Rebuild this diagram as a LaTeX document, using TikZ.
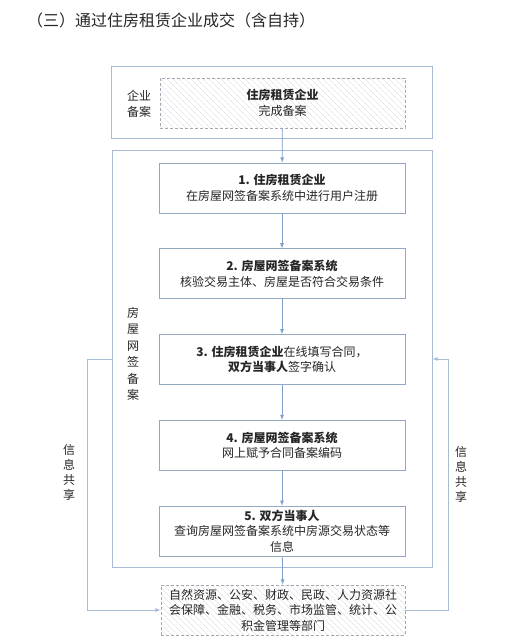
\documentclass[tikz,border=0pt]{standalone}
\usepackage{fontspec}
\setmainfont{Noto Sans CJK SC}
\usetikzlibrary{positioning}
\usetikzlibrary{patterns.meta}
\definecolor{framecol}{HTML}{A7BCD4}
\definecolor{boxcol}{HTML}{93A9C2}
\definecolor{dashcol}{HTML}{A3AAB3}
\definecolor{hatchcol}{HTML}{D2D5D9}
\definecolor{linkcol}{HTML}{7FA1C9}
\definecolor{txtcol}{HTML}{262626}

\begin{document}
\begin{tikzpicture}[x = 1pt, y = -1pt]
  \tikzstyle{frame}=[
      rectangle, draw = framecol, line width = 1pt
    ]
  \tikzstyle{stepbox}=[
      rectangle, draw = boxcol, line width = 0.8pt
    , minimum width = 246pt, minimum height = 50pt
    , align = center, text = txtcol
    , font = \fontsize{12}{15.5}\selectfont
    ]
  \tikzstyle{hatched}=[
      stepbox, draw = dashcol, dash pattern = on 3pt off 2pt
    , pattern = {Lines[angle = -45, distance = 4pt, line width = 0.4pt]}
    , pattern color = hatchcol
    ]
  \tikzstyle{sidelabel}=[
      align = center, text = txtcol, inner sep = 0pt
    , font = \fontsize{12}{16.5}\selectfont
    ]
  \tikzstyle{connect}=[-latex, line width = 0.8pt, draw = linkcol]
  \tikzstyle{share}=[-latex, line width = 0.8pt, draw = framecol]

  \fill[white] (0,0) rectangle (512,644);
  \useasboundingbox (0,0) rectangle (512,644);

  \node[anchor = west, text = txtcol, inner sep = 0pt,
        font = \fontsize{16}{18}\selectfont] (title) at (27,20)
    {（三）通过住房租赁企业成交（含自持）};

  % enterprise filing
  \node[frame, minimum width = 321pt, minimum height = 72pt] (regframe) at (271.5,103) { };
  \node[hatched, minimum width = 245pt] (regbox) at (282.5,103)
    { \textbf{住房租赁企业} \\ 完成备案 };
  \node[sidelabel] (reglabel) at (139,104) { 企业 \\ 备案 };

  % online signing and filing
  \node[frame, minimum width = 320pt, minimum height = 416pt] (netframe) at (272,359) { };
  \node[sidelabel] (netlabel) at (133,354) { 房 \\ 屋 \\ 网 \\ 签 \\ 备 \\ 案 };

  \node[stepbox] (step1) at (282,188)
    { \textbf{1. 住房租赁企业} \\ 在房屋网签备案系统中进行用户注册 };
  \node[stepbox, below = 35pt of step1] (step2)
    { \textbf{2. 房屋网签备案系统} \\ 核验交易主体、房屋是否符合交易条件 };
  \node[stepbox, below = 35pt of step2] (step3)
    { \textbf{3. 住房租赁企业}在线填写合同， \\ \textbf{双方当事人}签字确认 };
  \node[stepbox, below = 35pt of step3] (step4)
    { \textbf{4. 房屋网签备案系统} \\ 网上赋予合同备案编码 };
  \node[stepbox, below = 35pt of step4] (step5)
    { \textbf{5. 双方当事人} \\ 查询房屋网签备案系统中房源交易状态等 \\ 信息 };

  \node[hatched, minimum width = 244pt, below = 28pt of step5, xshift = 1pt] (agencies)
    { 自然资源、公安、财政、民政、人力资源社 \\ 会保障、金融、税务、市场监管、统计、公 \\ 积金管理等部门 };

  \path (regbox) edge [connect] (step1);
  \path (step1) edge [connect] (step2);
  \path (step2) edge [connect] (step3);
  \path (step3) edge [connect] (step4);
  \path (step4) edge [connect] (step5);
  \path (step5) edge [connect] (agencies);

  % information sharing
  \coordinate (lturn) at (87,359);
  \coordinate (rturn) at (448,359);
  \draw[share] (netframe.west) -- (lturn) |- (agencies.west);
  \draw[share] (agencies.east) -| (rturn) -- (netframe.east);
  \node[sidelabel, font = \fontsize{12}{15}\selectfont] (lshare) at (69,472) { 信 \\ 息 \\ 共 \\ 享 };
  \node[sidelabel, font = \fontsize{12}{15}\selectfont] (rshare) at (461,474) { 信 \\ 息 \\ 共 \\ 享 };

\end{tikzpicture}
\end{document}
